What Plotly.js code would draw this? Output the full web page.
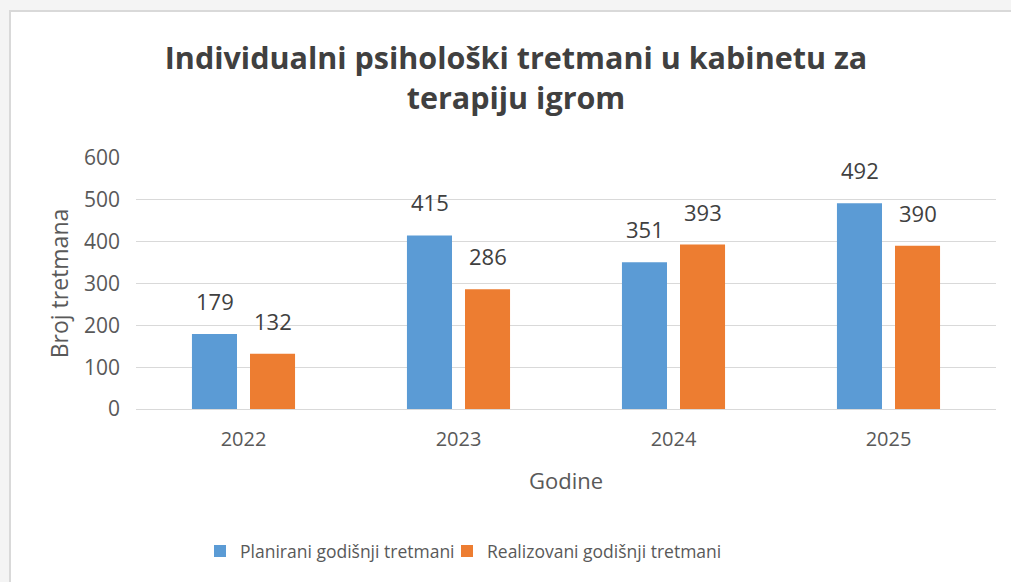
<!DOCTYPE html>
<html>
<head>
<meta charset="utf-8">
<script src="https://cdn.plot.ly/plotly-3.0.1.min.js"></script>
<style>
  html, body { margin:0; padding:0; background:#f4f4f4; width:1011px; height:582px; overflow:hidden; }
  #chart { position:absolute; left:9px; top:10px; width:1000px; height:570px; background:#fff;
           border-left:2px solid #d9d9d9; border-top:2px solid #d9d9d9; }
</style>
</head>
<body>
<div id="chart"></div>
<script>
const categories = ["2022", "2023", "2024", "2025"];
const planirani = [179, 415, 351, 492];
const realizovani = [132, 286, 393, 390];
const seriesNames = ["Planirani godišnji tretmani", "Realizovani godišnji tretmani"];
const yTicks = [0, 100, 200, 300, 400, 500, 600];

const FONT = "Open Sans, Calibri, sans-serif";

const traces = [
  { type: "bar", name: seriesNames[0], x: categories, y: planirani, marker: { color: "#5b9bd5" }, hoverinfo: "y", legend: "legend" },
  { type: "bar", name: seriesNames[1], x: categories, y: realizovani, marker: { color: "#ed7d31" }, hoverinfo: "y", legend: "legend2" }
];

const annotations = [];
categories.forEach((c, i) => {
  annotations.push({ x: i, y: planirani[i], text: String(planirani[i]), showarrow: false, xanchor: "center", yanchor: "bottom",
    xshift: -29, yshift: 16, font: { family: FONT, size: 22, color: "#404040" } });
  annotations.push({ x: i, y: realizovani[i], text: String(realizovani[i]), showarrow: false, xanchor: "center", yanchor: "bottom",
    xshift: 29, yshift: 16, font: { family: FONT, size: 22, color: "#404040" } });
});

const legendCommon = { orientation: "h", xref: "container", xanchor: "left", yref: "container", y: 0.054, yanchor: "middle",
  font: { family: FONT, size: 17.5, color: "#595959" }, itemwidth: 30, bgcolor: "rgba(0,0,0,0)" };

const layout = {
  width: 1000, height: 570,
  margin: { l: 125, r: 15, t: 146, b: 173 },
  paper_bgcolor: "#ffffff", plot_bgcolor: "#ffffff",
  font: { family: FONT, color: "#595959" },
  title: { text: "<b>Individualni psihološki tretmani u kabinetu za<br>terapiju igrom</b>",
    font: { family: FONT, size: 30.5, color: "#404040" }, xref: "container", x: 0.505, xanchor: "center",
    yref: "container", y: 0.9, yanchor: "middle" },
  barmode: "group", bargap: 0.46, bargroupgap: 0.224,
  xaxis: { type: "category", range: [-0.5, 3.5], autorange: false, showgrid: false, showline: true, linecolor: "#d9d9d9", linewidth: 1, ticks: "",
    tickfont: { family: FONT, size: 20, color: "#595959" }, ticklabelstandoff: 12,
    title: { text: "Godine", font: { family: FONT, size: 22, color: "#595959" }, standoff: 22 } },
  yaxis: { range: [0, 600], autorange: false, tickvals: yTicks, ticktext: yTicks.map(String), showgrid: true, gridcolor: "#d9d9d9", gridwidth: 1,
    zeroline: false, showline: false, ticks: "", tickfont: { family: FONT, size: 21, color: "#595959" }, ticklabelstandoff: 15,
    title: { text: "Broj tretmana", font: { family: FONT, size: 23, color: "#595959" }, standoff: 8 } },
  legend: Object.assign({}, legendCommon, { x: 0.189 }),
  legend2: Object.assign({}, legendCommon, { x: 0.436 }),
  annotations: annotations,
  showlegend: true
};

Plotly.newPlot("chart", traces, layout, { displayModeBar: false, staticPlot: true });
</script>
</body>
</html>
